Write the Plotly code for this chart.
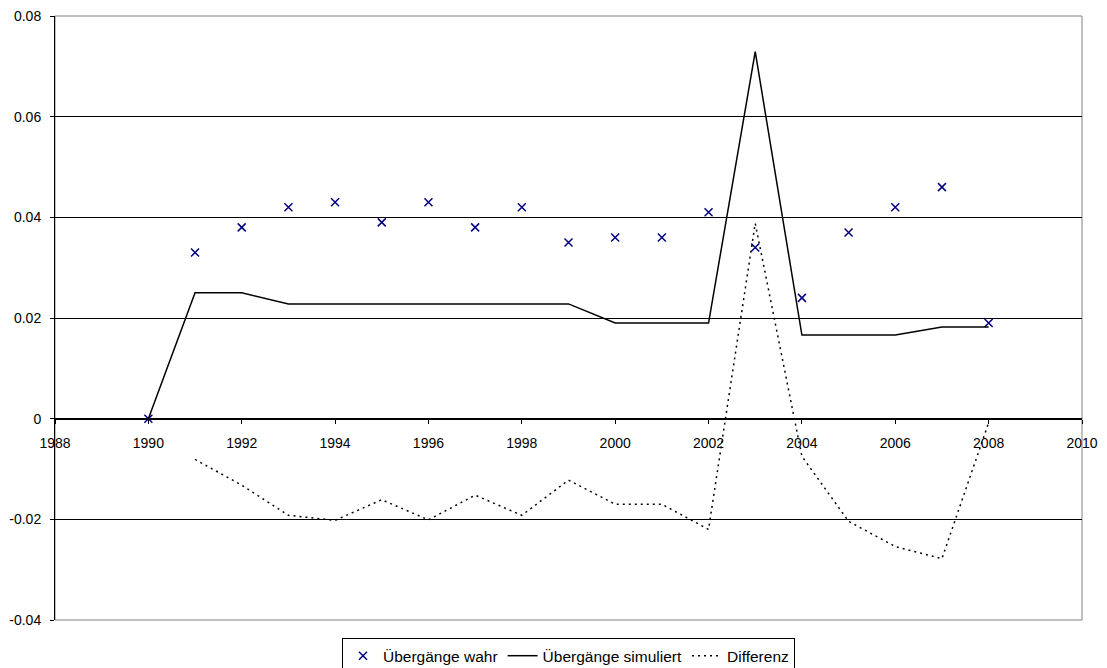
import plotly.graph_objects as go

years = list(range(1990, 2009))
wahr = [0.0, 0.033, 0.038, 0.042, 0.043, 0.039, 0.043, 0.038, 0.042, 0.035,
        0.036, 0.036, 0.041, 0.034, 0.024, 0.037, 0.042, 0.046, 0.019]
simuliert = [0.0, 0.025, 0.025, 0.0228, 0.0228, 0.0228, 0.0228, 0.0228, 0.0228, 0.0228,
             0.019, 0.019, 0.019, 0.0729, 0.0166, 0.0166, 0.0166, 0.0182, 0.0182]
diff_years = list(range(1991, 2009))
differenz = [-0.0081, -0.0132, -0.0192, -0.0202, -0.0161, -0.0201, -0.0152, -0.0192, -0.0122,
             -0.0170, -0.0170, -0.0220, 0.0388, -0.0075, -0.0204, -0.0254, -0.0278, -0.0008]

x_ticks = list(range(1988, 2011, 2))
y_ticks = [-0.04, -0.02, 0, 0.02, 0.04, 0.06, 0.08]
y_labels = ["-0.04", "-0.02", "0", "0.02", "0.04", "0.06", "0.08"]

FONT = "Liberation Sans, Arial, sans-serif"

fig = go.Figure()
fig.add_trace(go.Scatter(
    x=years, y=wahr, mode="markers", name="Übergänge wahr",
    marker=dict(symbol="x-thin", size=8, color="#000080",
                line=dict(color="#000080", width=1.5)),
))
fig.add_trace(go.Scatter(
    x=years, y=simuliert, mode="lines", name="Übergänge simuliert",
    line=dict(color="black", width=1.5),
))
fig.add_trace(go.Scatter(
    x=diff_years, y=differenz, mode="lines", name="Differenz",
    line=dict(color="black", width=1.5, dash="2px,4px"),
))

fig.update_layout(
    width=1107, height=668,
    margin=dict(l=47, r=33, t=8, b=56, autoexpand=False),
    paper_bgcolor="white", plot_bgcolor="white",
    font=dict(family=FONT, size=14, color="black"),
    showlegend=True,
    legend=dict(
        orientation="h", x=0.5, xanchor="center", y=-0.03, yanchor="top",
        bordercolor="black", borderwidth=1, font=dict(size=15.5, family=FONT),
        bgcolor="white", tracegroupgap=0,
    ),
    xaxis=dict(
        range=[1988, 2010], tickvals=x_ticks, ticktext=[str(v) for v in x_ticks],
        showgrid=False, zeroline=False,
        showline=True, linecolor="black", linewidth=1,
        ticks="outside", ticklen=4, tickcolor="black",
        anchor="free", position=1/3, ticklabelstandoff=8,
        ticklabeloverflow="allow",
        tickfont=dict(size=14, family=FONT),
    ),
    yaxis=dict(
        range=[-0.04, 0.08], tickvals=y_ticks, ticktext=y_labels,
        showgrid=True, gridcolor="black", gridwidth=1,
        zeroline=False,
        showline=True, linecolor="black", linewidth=1,
        ticks="outside", ticklen=4, tickcolor="black", ticklabelstandoff=6,
        ticklabeloverflow="allow",
        tickfont=dict(size=14, family=FONT),
    ),
    shapes=[dict(type="rect", xref="paper", yref="paper", x0=0, y0=0, x1=1, y1=1,
                 line=dict(color="#808080", width=1), layer="below")],
)

fig.write_html("out.html")
